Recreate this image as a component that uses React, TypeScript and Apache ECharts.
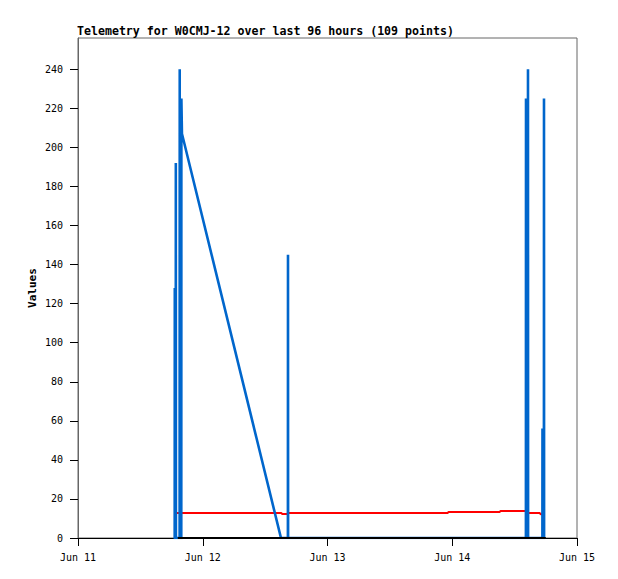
import React, { useEffect, useRef } from "react";
import * as echarts from "echarts";

// Hours since Jun 11 00:00
const blueTimes = [
  18.6, 18.62, 18.64, 18.8, 18.82, 18.84, 19.55, 19.57, 19.59, 19.87, 19.89, 20.0,
  39.05, 40.38, 40.4, 40.42, 86.17, 86.19, 86.21, 86.55, 86.57, 86.59,
  89.34, 89.36, 89.38, 89.63, 89.65, 89.67,
];
const blueValues = [
  0, 128, 0, 0, 192, 0, 0, 240, 0, 0, 225, 207,
  0, 0, 145, 0, 0, 225, 0, 0, 240, 0,
  0, 56, 0, 0, 225, 0,
];

const redTimes = [19.0, 39.1, 39.3, 40.2, 40.4, 71.1, 71.3, 81.1, 81.3, 86.2, 86.4, 88.8, 89.0, 89.6];
const redValues = [12.8, 12.8, 12.3, 12.3, 12.8, 12.8, 13.3, 13.3, 13.8, 13.8, 12.8, 12.8, 12.2, 12.2];

const blackTimes = [19.2, 90.0];
const blackValues = [0, 0];

const xTickLabels = ["Jun 11", "Jun 12", "Jun 13", "Jun 14", "Jun 15"];
const titleText = "Telemetry for W0CMJ-12 over last 96 hours (109 points)";
const yAxisTitle = "Values";

const zip = (t: number[], v: number[]) => t.map((x, i) => [x, v[i]]);

export default function App() {
  const ref = useRef<HTMLDivElement>(null);
  useEffect(() => {
    if (!ref.current) return;
    const chart = echarts.init(ref.current, null, { renderer: "svg" });
    const mono = "DejaVu Sans Mono";
    chart.setOption({
      animation: false,
      backgroundColor: "#ffffff",
      title: {
        text: titleText,
        left: 69,
        top: 17,
        padding: 0,
        textStyle: { fontFamily: mono, fontSize: 11.6, fontWeight: "bold", color: "#000" },
      },
      graphic: [
        {
          type: "text",
          x: 24,
          y: 280,
          rotation: Math.PI / 2,
          style: {
            text: yAxisTitle,
            font: "bold 11px 'DejaVu Sans Mono'",
            fill: "#000",
            textAlign: "center",
            textVerticalAlign: "middle",
          },
        },
      ],
      grid: {
        left: 70,
        right: 33,
        top: 30,
        bottom: 33,
        show: true,
        borderColor: "#666",
        borderWidth: 1,
      },
      xAxis: {
        type: "value",
        min: 0,
        max: 96,
        interval: 24,
        splitLine: { show: false },
        axisLine: { show: true, lineStyle: { color: "#000", width: 1 } },
        axisTick: { show: true, inside: false, length: 8, lineStyle: { color: "#000" } },
        axisLabel: {
          margin: 14,
          fontFamily: mono,
          fontSize: 10,
          color: "#000",
          formatter: (v: number) => xTickLabels[Math.round(v / 24)] ?? "",
        },
      },
      yAxis: {
        type: "value",
        min: 0,
        max: 256,
        interval: 20,
        splitLine: { show: false },
        axisLine: { show: true, lineStyle: { color: "#666", width: 1 } },
        axisTick: { show: true, inside: false, length: 8, lineStyle: { color: "#000" } },
        axisLabel: {
          margin: 15,
          fontFamily: mono,
          fontSize: 10,
          color: "#000",
          showMaxLabel: false,
          formatter: (v: number) => (v % 20 === 0 ? String(v) : ""),
        },
      },
      series: [
        {
          type: "line",
          data: zip(redTimes, redValues),
          showSymbol: false,
          symbol: "none",
          lineStyle: { color: "#ff0000", width: 2 },
          z: 2,
        },
        {
          type: "line",
          data: zip(blueTimes, blueValues),
          showSymbol: false,
          symbol: "none",
          lineStyle: { color: "#0066cc", width: 2.6, cap: "butt", join: "miter", miterLimit: 2 },
          z: 3,
        },
        {
          type: "line",
          data: zip(blackTimes, blackValues),
          showSymbol: false,
          symbol: "none",
          clip: false,
          lineStyle: { color: "#000", width: 2 },
          z: 4,
        },
      ],
    });
    return () => chart.dispose();
  }, []);
  return <div ref={ref} style={{ width: 602, height: 563 }} />;
}
